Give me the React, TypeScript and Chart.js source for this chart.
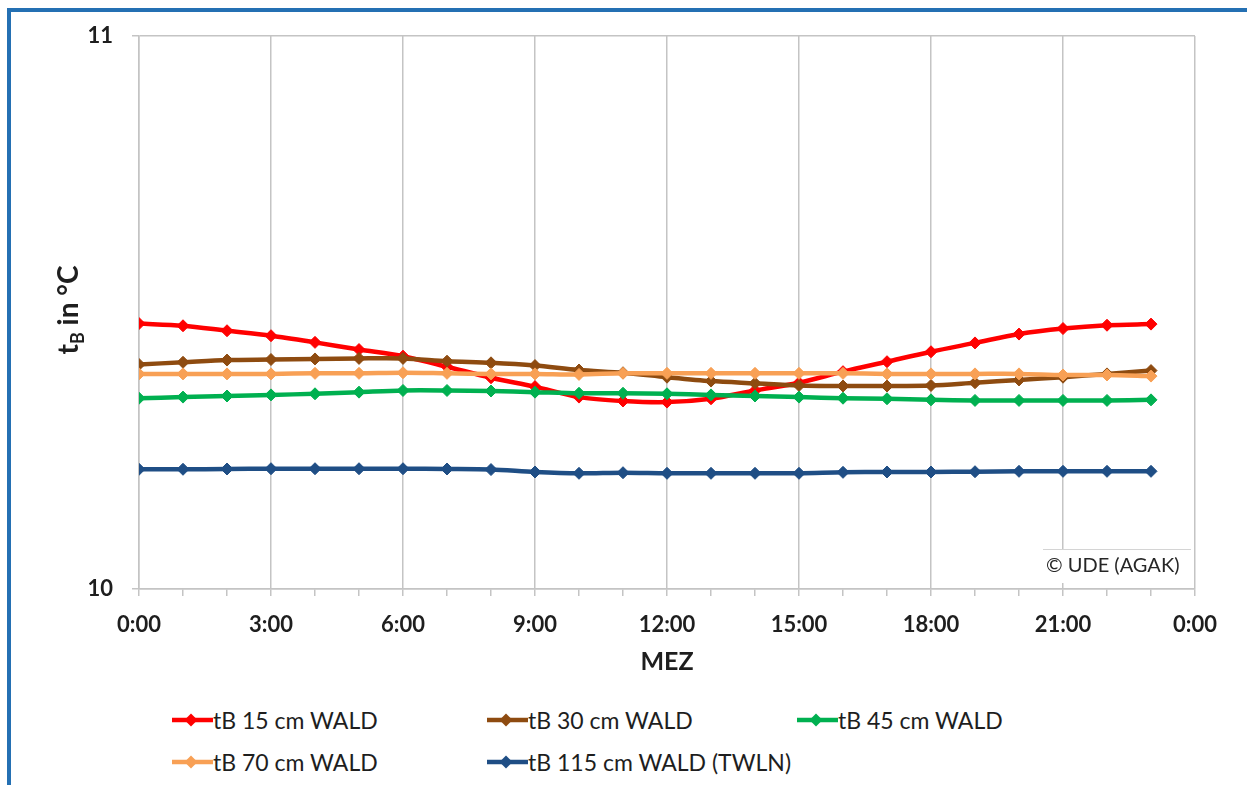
import React, { useEffect, useRef } from 'react';
import { Chart, registerables } from 'chart.js';

Chart.register(...registerables);

// Hourly soil temperatures (tB) in the forest plot, °C
const hours = [0, 1, 2, 3, 4, 5, 6, 7, 8, 9, 10, 11, 12, 13, 14, 15, 16, 17, 18, 19, 20, 21, 22, 23];

const tB15 = [10.480, 10.476, 10.467, 10.458, 10.446, 10.433, 10.421, 10.402, 10.382, 10.366, 10.347, 10.340,
  10.338, 10.344, 10.359, 10.373, 10.393, 10.411, 10.429, 10.445, 10.461, 10.471, 10.477, 10.479];
const tB30 = [10.406, 10.410, 10.414, 10.415, 10.416, 10.417, 10.417, 10.412, 10.409, 10.404, 10.396, 10.391,
  10.383, 10.376, 10.372, 10.368, 10.367, 10.367, 10.368, 10.373, 10.378, 10.383, 10.389, 10.395];
const tB45 = [10.345, 10.347, 10.349, 10.351, 10.353, 10.356, 10.359, 10.359, 10.358, 10.356, 10.354, 10.354,
  10.353, 10.351, 10.349, 10.347, 10.345, 10.344, 10.342, 10.341, 10.341, 10.341, 10.341, 10.342];
const tB70 = [10.389, 10.389, 10.389, 10.389, 10.390, 10.390, 10.391, 10.390, 10.389, 10.389, 10.388, 10.390,
  10.390, 10.390, 10.390, 10.390, 10.390, 10.389, 10.389, 10.389, 10.389, 10.387, 10.387, 10.385];
const tB115 = [10.2165, 10.2165, 10.217, 10.2175, 10.2175, 10.2175, 10.2175, 10.217, 10.216, 10.2116, 10.2092, 10.2103,
  10.2092, 10.2092, 10.2092, 10.2092, 10.211, 10.2116, 10.2116, 10.2121, 10.2128, 10.2128, 10.2128, 10.2128];

const seriesNames = ['tB 15 cm WALD', 'tB 30 cm WALD', 'tB 45 cm WALD', 'tB 70 cm WALD', 'tB 115 cm WALD (TWLN)'];
const seriesValues = [tB15, tB30, tB45, tB70, tB115];
const seriesColors = ['#FF0000', '#8E4B10', '#00B050', '#F8A055', '#1F4E85'];

const yTicks = [10, 11];
const xTitle = 'MEZ';
const yTitleMain = 't';
const yTitleSub = 'B';
const yTitleRest = ' in °C';
const copyrightText = '© UDE (AGAK)';

const FONT = "Lato, Carlito, 'Open Sans', sans-serif";
const GRID = '#C4C4C4';
const TEXT = '#1E1E1E';

const annotations = {
  id: 'annotations',
  afterDraw(chart: any) {
    const { ctx, chartArea } = chart;
    ctx.save();
    // x axis title
    ctx.fillStyle = TEXT;
    ctx.font = `bold 25px ${FONT}`;
    ctx.textAlign = 'center';
    ctx.textBaseline = 'middle';
    ctx.fillText(xTitle, (chartArea.left + chartArea.right) / 2, 662);

    // y axis title with subscript
    ctx.translate(78, 310);
    ctx.rotate(-Math.PI / 2);
    ctx.textBaseline = 'alphabetic';
    ctx.textAlign = 'left';
    const big = `bold 28px ${FONT}`;
    const small = `bold 18px ${FONT}`;
    ctx.font = big;
    const w1 = ctx.measureText(yTitleMain).width;
    const w3 = ctx.measureText(yTitleRest).width;
    ctx.font = small;
    const w2 = ctx.measureText(yTitleSub).width;
    let x = -(w1 + w2 + w3) / 2;
    ctx.font = big;
    ctx.fillText(yTitleMain, x, 0);
    x += w1;
    ctx.font = small;
    ctx.fillText(yTitleSub, x, 6);
    x += w2;
    ctx.font = big;
    ctx.fillText(yTitleRest, x, 0);
    ctx.restore();

    // copyright box
    ctx.save();
    ctx.fillStyle = '#FFFFFF';
    ctx.fillRect(1043, 549, 148, 34);
    ctx.strokeStyle = '#D4D4D4';
    ctx.lineWidth = 1;
    ctx.beginPath();
    ctx.moveTo(1043, 549.5);
    ctx.lineTo(1191, 549.5);
    ctx.stroke();
    ctx.fillStyle = '#262626';
    ctx.font = `20px ${FONT}`;
    ctx.textAlign = 'left';
    ctx.textBaseline = 'middle';
    ctx.fillText(copyrightText, 1046, 566);
    ctx.restore();
  },
};

function LegendMarker({ color }: { color: string }) {
  return (
    <svg width={41} height={16} style={{ display: 'block', flex: 'none' }}>
      <line x1={0} y1={8} x2={41} y2={8} stroke={color} strokeWidth={4.5} />
      <polygon points="19,1.5 25.5,8 19,14.5 12.5,8" fill={color} />
    </svg>
  );
}

const legendPos = [
  [172, 720],
  [487, 720],
  [797, 720],
  [172, 762],
  [487, 762],
];

export default function App() {
  const canvasRef = useRef<HTMLCanvasElement | null>(null);

  useEffect(() => {
    if (!canvasRef.current) return;
    const n = seriesNames.length;
    const chart = new Chart(canvasRef.current, {
      type: 'line',
      data: {
        datasets: seriesNames.map((name, i) => ({
          label: name,
          data: hours.map((h, j) => ({ x: h, y: seriesValues[i][j] })),
          borderColor: seriesColors[i],
          backgroundColor: seriesColors[i],
          borderWidth: 4.5,
          pointStyle: 'rectRot',
          pointRadius: 6,
          pointBorderWidth: 1,
          pointBorderColor: seriesColors[i],
          pointBackgroundColor: seriesColors[i],
          tension: 0.3,
          order: n - i,
        })),
      },
      options: {
        animation: false,
        responsive: false,
        maintainAspectRatio: false,
        layout: { padding: { left: 0, top: 36, right: 52, bottom: 0 } },
        plugins: {
          legend: { display: false },
          tooltip: { enabled: false },
        },
        scales: {
          x: {
            type: 'linear',
            min: 0,
            max: 24,
            afterFit: (scale: any) => {
              scale.height = 111;
            },
            ticks: {
              stepSize: 1,
              autoSkip: false,
              maxRotation: 0,
              padding: 16,
              color: TEXT,
              font: { family: FONT, size: 22, weight: 'bold' },
              callback: (v: any) => (Number(v) % 3 === 0 ? `${Number(v) % 24}:00` : ''),
            },
            grid: {
              color: (ctx: any) => (ctx.tick && ctx.tick.value % 3 === 0 ? GRID : 'rgba(0,0,0,0)'),
              tickColor: GRID,
              tickLength: 7,
              lineWidth: 1.5,
            },
            border: { display: true, color: GRID, width: 1.5 },
          },
          y: {
            type: 'linear',
            min: yTicks[0],
            max: yTicks[yTicks.length - 1],
            afterFit: (scale: any) => {
              scale.width = 139;
            },
            afterBuildTicks: (scale: any) => {
              scale.ticks = yTicks.map((v) => ({ value: v }));
            },
            ticks: {
              padding: 19,
              color: TEXT,
              font: { family: FONT, size: 22, weight: 'bold' },
            },
            grid: {
              color: GRID,
              tickColor: GRID,
              tickLength: 7,
              lineWidth: 1.5,
            },
            border: { display: true, color: GRID, width: 1.5 },
          },
        },
      },
      plugins: [annotations],
    });
    return () => chart.destroy();
  }, []);

  return (
    <div style={{ position: 'absolute', left: 0, top: 0, width: 1247, height: 785, background: '#FFFFFF', overflow: 'hidden' }}>
      <canvas ref={canvasRef} width={1247} height={700} style={{ position: 'absolute', left: 0, top: 0, width: 1247, height: 700 }} />
      <div style={{ position: 'absolute', left: 7, top: 8, width: 1240, height: 4, background: '#2470B3' }} />
      <div style={{ position: 'absolute', left: 7, top: 8, width: 4, height: 777, background: '#2470B3' }} />
      {seriesNames.map((name, i) => (
        <div
          key={name}
          style={{
            position: 'absolute',
            left: legendPos[i][0],
            top: legendPos[i][1] - 15,
            height: 30,
            display: 'flex',
            alignItems: 'center',
            whiteSpace: 'nowrap',
            fontFamily: FONT,
            fontSize: 23,
            color: TEXT,
          }}
        >
          <LegendMarker color={seriesColors[i]} />
          <span>{name}</span>
        </div>
      ))}
    </div>
  );
}
